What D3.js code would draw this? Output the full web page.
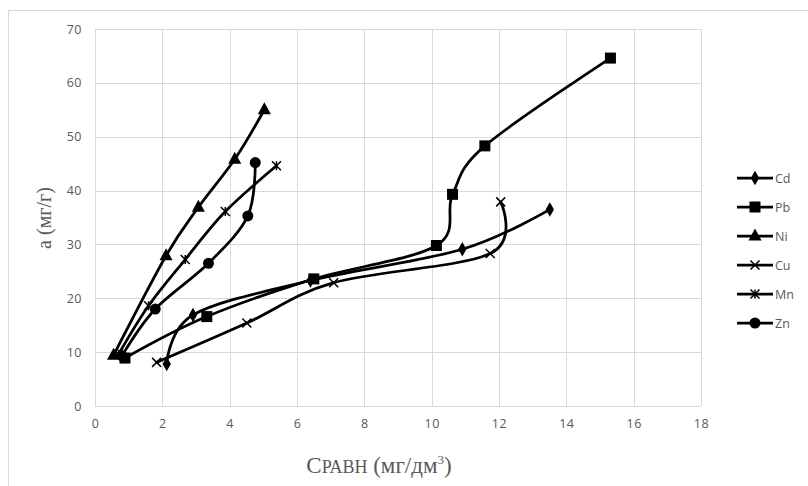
<!DOCTYPE html>
<html>
<head>
<meta charset="utf-8">
<script src="https://cdn.jsdelivr.net/npm/d3@7"></script>
<style>
  body { margin: 0; background: #fff; }
  svg { display: block; }
</style>
</head>
<body>
<div id="chart"></div>
<script>
// data: [Cравн, a]
const cd = [[2.13, 7.8], [2.91, 16.9], [6.4, 23.3], [10.91, 29.1], [13.51, 36.5]]
const pb = [[0.89, 8.9], [3.32, 16.6], [6.5, 23.6], [10.14, 29.8], [10.62, 39.3], [11.58, 48.3], [15.31, 64.6]]
const ni = [[0.55, 9.4], [2.11, 27.9], [3.07, 36.9], [4.15, 45.8], [5.03, 55.0]]
const cu = [[1.83, 8.1], [4.51, 15.4], [7.09, 22.9], [11.74, 28.3], [12.05, 37.9]]
const mn = [[0.7, 9.6], [1.59, 18.6], [2.68, 27.2], [3.87, 36.1], [5.39, 44.6]]
const zn = [[0.8, 9.3], [1.79, 18.0], [3.37, 26.5], [4.54, 35.3], [4.76, 45.2]]

const seriesNames = ['Cd', 'Pb', 'Ni', 'Cu', 'Mn', 'Zn']
const seriesData = [cd, pb, ni, cu, mn, zn]
const seriesMarks = ['diamond', 'square', 'triangle', 'cross', 'star', 'circle']

const xTicks = [0, 2, 4, 6, 8, 10, 12, 14, 16, 18]
const yTicks = [0, 10, 20, 30, 40, 50, 60, 70]

const W = 808, H = 486
const plot = { left: 95, right: 701, top: 29, bottom: 406 }

let svg = d3.select('#chart').append('svg')
    .attr('width', W)
    .attr('height', H)

// outer chart border
svg.append('rect')
    .attr('x', 8.5).attr('y', 10.5)
    .attr('width', 830).attr('height', 500)
    .attr('fill', 'none')
    .attr('stroke', '#d9d9d9')

let x = d3.scaleLinear().domain([0, 18]).range([plot.left, plot.right])
let y = d3.scaleLinear().domain([0, 70]).range([plot.bottom, plot.top])

// grid
let grid = svg.append('g').attr('stroke', '#d9d9d9').attr('stroke-width', 1)
grid.selectAll('line.v')
    .data(xTicks)
    .join('line')
    .attr('class', 'v')
    .attr('x1', d => Math.round(x(d)) + 0.5).attr('x2', d => Math.round(x(d)) + 0.5)
    .attr('y1', plot.top).attr('y2', plot.bottom)
grid.selectAll('line.h')
    .data(yTicks)
    .join('line')
    .attr('class', 'h')
    .attr('x1', plot.left).attr('x2', plot.right)
    .attr('y1', d => Math.round(y(d)) + 0.5).attr('y2', d => Math.round(y(d)) + 0.5)

// axes (labels only, Excel style)
let xAxis = svg.append('g')
    .attr('transform', `translate(0,${plot.bottom})`)
    .call(d3.axisBottom(x).tickValues(xTicks).tickSize(0).tickPadding(13))
let yAxis = svg.append('g')
    .attr('transform', `translate(${plot.left},0)`)
    .call(d3.axisLeft(y).tickValues(yTicks).tickSize(0).tickPadding(13))
;[xAxis, yAxis].forEach(a => {
    a.select('.domain').remove()
    a.selectAll('text')
        .attr('fill', '#595959')
        .style('font-family', '"Open Sans", sans-serif')
        .style('font-size', '12.5px')
        .style('letter-spacing', '0.5px')
})

// axis titles
svg.append('text')
    .attr('transform', 'translate(51,218) rotate(-90)')
    .attr('text-anchor', 'middle')
    .attr('fill', '#595959')
    .style('font-family', '"Liberation Serif", serif')
    .style('font-size', '20px')
    .text('а (мг/г)')

let xt = svg.append('text')
    .attr('x', 379).attr('y', 473)
    .attr('text-anchor', 'middle')
    .attr('fill', '#595959')
    .style('font-family', '"Liberation Serif", serif')
    .style('font-size', '23px')
xt.append('tspan').text('С')
xt.append('tspan').style('font-size', '18px').text('РАВН')
xt.append('tspan').text(' (мг/дм')
xt.append('tspan').attr('dy', -9).style('font-size', '13px').text('3')
xt.append('tspan').attr('dy', 9).text(')')

// markers
function drawMark(g, kind, cx, cy) {
    if (kind === 'diamond') {
        g.append('path').attr('d', d3.symbol(d3.symbolDiamond, 60)())
            .attr('transform', `translate(${cx},${cy})`).attr('fill', '#000')
    } else if (kind === 'square') {
        g.append('rect').attr('x', cx - 5.5).attr('y', cy - 5.5)
            .attr('width', 11).attr('height', 11).attr('fill', '#000')
    } else if (kind === 'triangle') {
        g.append('path').attr('d', `M${cx},${cy - 7.5}L${cx + 6.5},${cy + 4.5}L${cx - 6.5},${cy + 4.5}Z`)
            .attr('fill', '#000')
    } else if (kind === 'circle') {
        g.append('circle').attr('cx', cx).attr('cy', cy).attr('r', 5.5).attr('fill', '#000')
    } else {
        let r = 4.5
        let p = `M${cx - r},${cy - r}L${cx + r},${cy + r}M${cx - r},${cy + r}L${cx + r},${cy - r}`
        if (kind === 'star') p += `M${cx},${cy - r}L${cx},${cy + r}`
        g.append('path').attr('d', p).attr('stroke', '#000').attr('stroke-width', 1.5).attr('fill', 'none')
    }
}

// Excel-like smoothing (uniform Catmull-Rom)
let line = d3.line()
    .x(d => x(d[0]))
    .y(d => y(d[1]))
    .curve(d3.curveCardinal.tension(0))

seriesData.forEach((data, i) => {
    let g = svg.append('g')
    g.append('path')
        .attr('d', line(data))
        .attr('fill', 'none')
        .attr('stroke', '#000')
        .attr('stroke-width', 2.75)
        .attr('stroke-linecap', 'round')
    data.forEach(d => drawMark(g, seriesMarks[i], x(d[0]), y(d[1])))
})

// legend
let legend = svg.append('g')
seriesNames.forEach((name, i) => {
    let ly = 178 + i * 29
    let g = legend.append('g')
    g.append('line')
        .attr('x1', 737).attr('x2', 773)
        .attr('y1', ly).attr('y2', ly)
        .attr('stroke', '#000').attr('stroke-width', 2.75)
    drawMark(g, seriesMarks[i], 755, ly)
    g.append('text')
        .attr('x', 775).attr('y', ly + 4.5)
        .attr('fill', '#595959')
        .style('font-family', '"Open Sans", sans-serif')
        .style('font-size', '12.5px')
        .text(name)
})
</script>
</body>
</html>
